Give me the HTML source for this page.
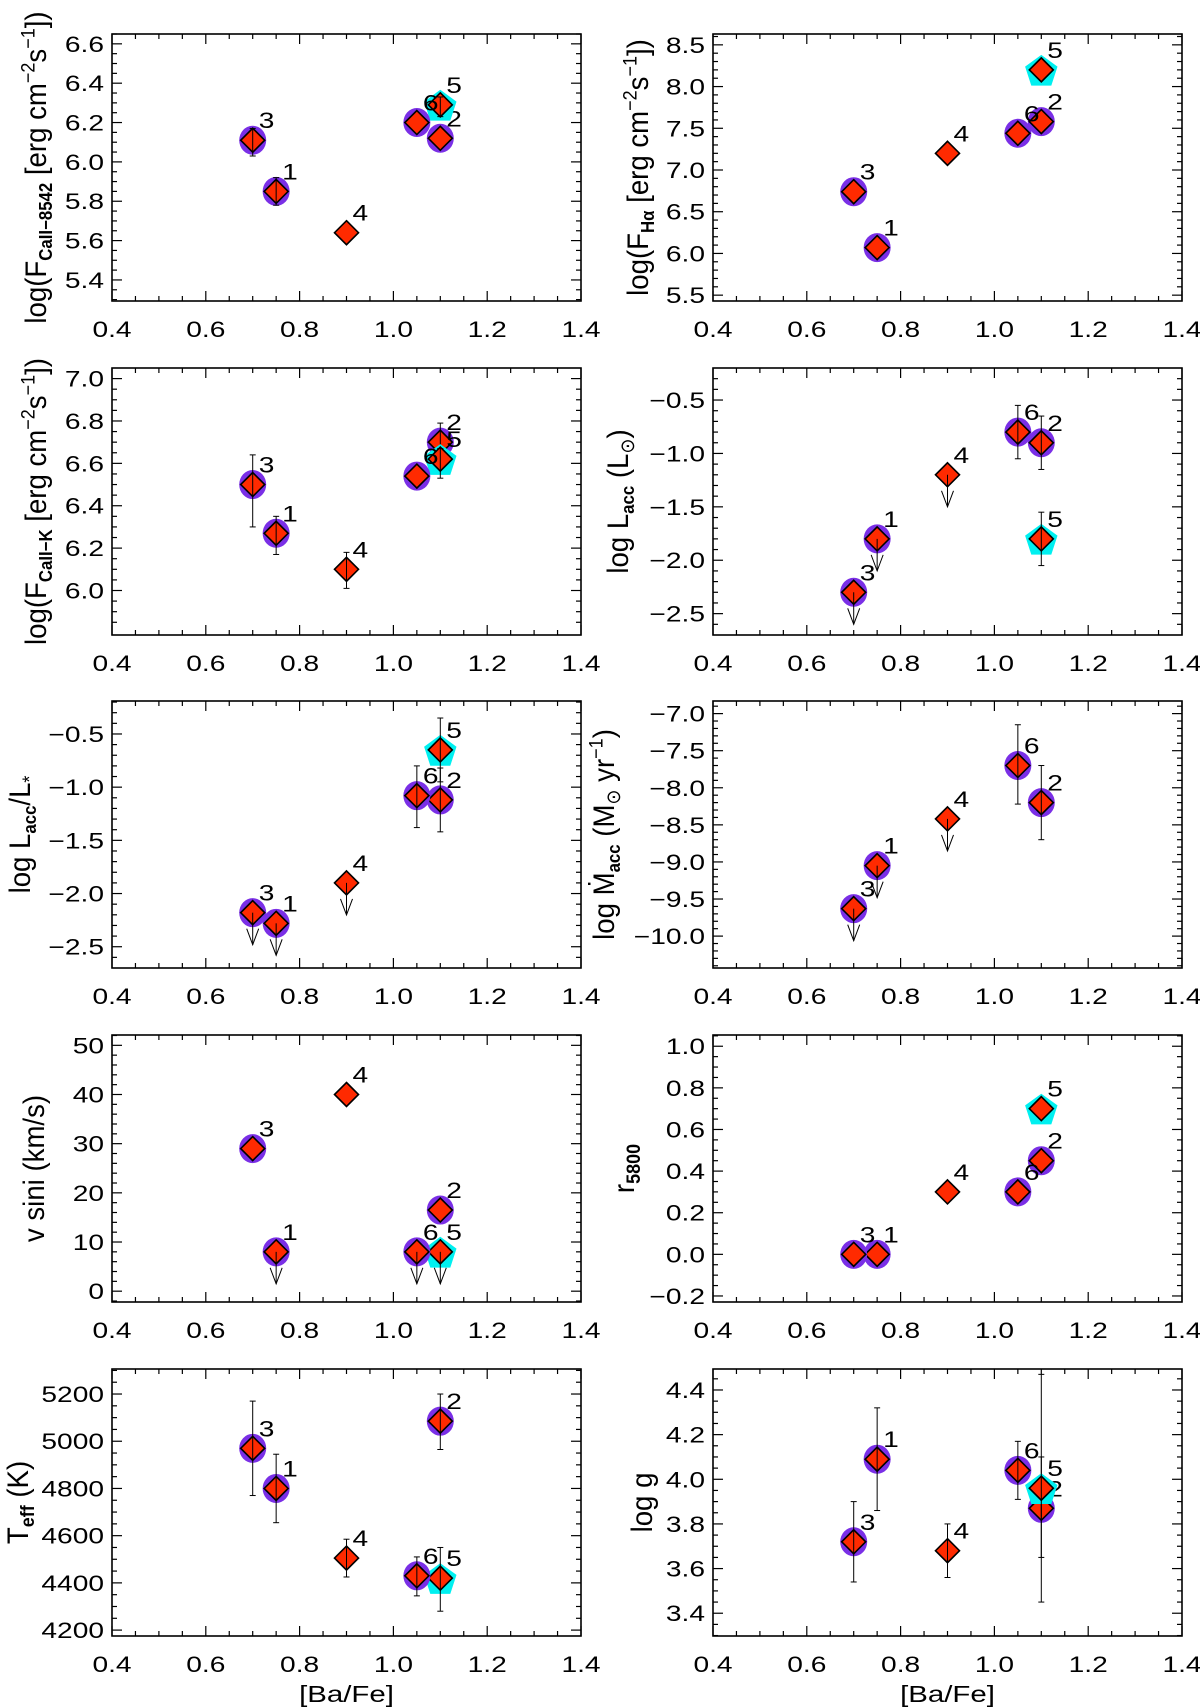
<!DOCTYPE html>
<html><head><meta charset="utf-8">
<style>
html,body{margin:0;padding:0;background:#fff;}
svg{display:block;font-family:"Liberation Sans",sans-serif;}
</style></head>
<body>
<svg id="fig" width="1200" height="1708" viewBox="0 0 1200 1708" xmlns="http://www.w3.org/2000/svg"></svg>
<script>
// ---------- data (stars 1..6) ----------
const starIds = ["1","2","3","4","5","6"];
const baFe = [0.75, 1.10, 0.70, 0.90, 1.10, 1.05];
const starKind = ["circle","circle","circle","none","penta","circle"];

const caII8542 = [5.85, 6.12, 6.11, 5.64, 6.29, 6.20];
const caII8542Lo = [5.78, null, 6.03, null, 6.23, null];
const caII8542Hi = [5.92, null, 6.17, null, 6.33, null];

const fHalpha = [6.07, 7.58, 6.74, 7.20, 8.20, 7.44];

const caIIK = [6.27, 6.70, 6.50, 6.10, 6.62, 6.54];
const caIIKLo = [6.17, 6.62, 6.30, 6.01, 6.53, null];
const caIIKHi = [6.35, 6.79, 6.64, 6.18, 6.67, null];

const logLacc = [-1.8, -0.9, -2.3, -1.2, -1.8, -0.8];
const logLaccLo = [null, -1.15, null, null, -2.05, -1.05];
const logLaccHi = [null, -0.65, null, null, -1.55, -0.55];
const logLaccUL = [1, 0, 1, 1, 0, 0];

const laccRatio = [-2.28, -1.12, -2.18, -1.90, -0.65, -1.08];
const laccRatioLo = [null, -1.42, null, null, -0.95, -1.38];
const laccRatioHi = [null, -0.82, null, null, -0.35, -0.80];
const laccRatioUL = [1, 0, 1, 1, 0, 0];

const mdot = [-9.05, -8.2, -9.63, -8.42, null, -7.7];
const mdotLo = [null, -8.7, null, null, null, -8.22];
const mdotHi = [null, -7.7, null, null, null, -7.15];
const mdotUL = [1, 0, 1, 1, 0, 0];

const vsini = [8, 16.5, 29, 40, 8, 8];
const vsiniUL = [1, 0, 0, 0, 1, 1];

const r5800 = [0.0, 0.45, 0.0, 0.30, 0.70, 0.30];

const teff = [4800, 5085, 4970, 4505, 4420, 4430];
const teffLo = [4655, 4965, 4770, 4425, 4280, 4345];
const teffHi = [4945, 5200, 5170, 4585, 4550, 4510];

const logg = [4.09, 3.87, 3.72, 3.68, 3.96, 4.04];
const loggLo = [3.86, 3.65, 3.54, 3.56, 3.45, 3.91];
const loggHi = [4.32, 4.10, 3.90, 3.80, 4.47, 4.17];

const xTicks = ["0.4","0.6","0.8","1.0","1.2","1.4"];
const yTicks1 = ["5.4","5.6","5.8","6.0","6.2","6.4","6.6"];
const yTicks2 = ["5.5","6.0","6.5","7.0","7.5","8.0","8.5"];
const yTicks3 = ["6.0","6.2","6.4","6.6","6.8","7.0"];
const yTicks4 = ["-2.5","-2.0","-1.5","-1.0","-0.5"];
const yTicks5 = ["-2.5","-2.0","-1.5","-1.0","-0.5"];
const yTicks6 = ["-10.0","-9.5","-9.0","-8.5","-8.0","-7.5","-7.0"];
const yTicks7 = ["0","10","20","30","40","50"];
const yTicks8 = ["-0.2","0.0","0.2","0.4","0.6","0.8","1.0"];
const yTicks9 = ["4200","4400","4600","4800","5000","5200"];
const yTicks10 = ["3.4","3.6","3.8","4.0","4.2","4.4"];

// ---------- layout ----------
const NS = "http://www.w3.org/2000/svg";
const svg = document.getElementById("fig");
const LX = [112, 581], RX = [713, 1182];
const rowTop = [34, 368, 701, 1035, 1369];
const PH = 267;
const XMIN = 0.4, XMAX = 1.4;
const RED = "#ff2a00", PURPLE = "#7a2fe6", CYAN = "#00f0f0";

const panels = [
  {name:"caII-8542", col:0,row:0,ymin:5.293,ymax:6.65,ticks:yTicks1,minor:4,y:caII8542,lo:caII8542Lo,hi:caII8542Hi,titleX:46,
   title:'log(F<tspan baseline-shift="-5" font-size="14" font-weight="bold">CaII−8542</tspan> [erg cm<tspan baseline-shift="9" font-size="15">−2</tspan>s<tspan baseline-shift="9" font-size="15">−1</tspan>])'},
  {name:"h-alpha", col:1,row:0,ymin:5.43,ymax:8.63,ticks:yTicks2,minor:5,y:fHalpha,titleX:648,
   title:'log(F<tspan baseline-shift="-5" font-size="14" font-weight="bold">Hα</tspan> [erg cm<tspan baseline-shift="9" font-size="15">−2</tspan>s<tspan baseline-shift="9" font-size="15">−1</tspan>])'},
  {name:"caII-k", col:0,row:1,ymin:5.79,ymax:7.05,ticks:yTicks3,minor:4,y:caIIK,lo:caIIKLo,hi:caIIKHi,titleX:46,
   title:'log(F<tspan baseline-shift="-5" font-size="14" font-weight="bold">CaII−K</tspan> [erg cm<tspan baseline-shift="9" font-size="15">−2</tspan>s<tspan baseline-shift="9" font-size="15">−1</tspan>])'},
  {name:"log-lacc", col:1,row:1,ymin:-2.7,ymax:-0.2,ticks:yTicks4,minor:5,y:logLacc,lo:logLaccLo,hi:logLaccHi,ul:logLaccUL,titleX:628,
   title:'log  L<tspan baseline-shift="-5" font-size="14" font-weight="bold">acc</tspan>  (L<tspan baseline-shift="-5" font-size="15">⊙</tspan>)'},
  {name:"lacc-ratio", col:0,row:2,ymin:-2.7,ymax:-0.19,ticks:yTicks5,minor:5,y:laccRatio,lo:laccRatioLo,hi:laccRatioHi,ul:laccRatioUL,titleX:30,
   title:'log  L<tspan baseline-shift="-5" font-size="14" font-weight="bold">acc</tspan>/L<tspan baseline-shift="-5" font-size="15">*</tspan>'},
  {name:"mdot", col:1,row:2,ymin:-10.43,ymax:-6.83,ticks:yTicks6,minor:5,y:mdot,lo:mdotLo,hi:mdotHi,ul:mdotUL,titleX:614,
   title:'log  Ṁ<tspan baseline-shift="-5" font-size="14" font-weight="bold">acc</tspan>  (M<tspan baseline-shift="-5" font-size="15">⊙</tspan> yr<tspan baseline-shift="9" font-size="15">−1</tspan>)'},
  {name:"vsini", col:0,row:3,ymin:-2.2,ymax:52.1,ticks:yTicks7,minor:5,y:vsini,ul:vsiniUL,titleX:44,
   title:'v  sini  (km/s)'},
  {name:"r5800", col:1,row:3,ymin:-0.229,ymax:1.054,ticks:yTicks8,minor:4,y:r5800,titleX:634,
   title:'r<tspan baseline-shift="-5" font-size="15" font-weight="bold">5800</tspan>'},
  {name:"teff", col:0,row:4,ymin:4175,ymax:5306,ticks:yTicks9,minor:4,y:teff,lo:teffLo,hi:teffHi,titleX:28,
   title:'T<tspan baseline-shift="-5" font-size="15" font-weight="bold">eff</tspan>  (K)'},
  {name:"logg", col:1,row:4,ymin:3.298,ymax:4.494,ticks:yTicks10,minor:4,y:logg,lo:loggLo,hi:loggHi,titleX:652,
   title:'log  g'}
];

function el(tag, attrs, parent){
  const e = document.createElementNS(NS, tag);
  for (const k in attrs) e.setAttribute(k, attrs[k]);
  (parent||svg).appendChild(e);
  return e;
}
function label(x, y, s, anchor, size, parent){
  const t = el("text", {transform:`translate(${x},${y}) scale(1.28,1)`, "text-anchor":anchor, "font-size":size, fill:"#000"}, parent);
  t.textContent = s;
  return t;
}

panels.forEach((p, pi) => {
  const X = p.col === 0 ? LX : RX;
  const top = rowTop[p.row], bot = top + PH;
  const xs = v => X[0] + (v - XMIN) / (XMAX - XMIN) * (X[1] - X[0]);
  const ys = v => bot - (v - p.ymin) / (p.ymax - p.ymin) * PH;
  const g = el("g", {});
  
  

  const fr = el("rect", {x:X[0], y:top, width:X[1]-X[0], height:PH, fill:"none", stroke:"#000", "stroke-width":1.6}, g);
  
  

  const xt = el("g", {stroke:"#000","stroke-width":1.2}, g);
  
  
  for (let i = 0; i < xTicks.length; i++) {
    const v = parseFloat(xTicks[i]);
    const px = xs(v);
    el("line", {x1:px, y1:bot, x2:px, y2:bot-10}, xt);
    el("line", {x1:px, y1:top, x2:px, y2:top+10}, xt);
    if (i < xTicks.length - 1) {
      const step = parseFloat(xTicks[i+1]) - v;
      for (let m = 1; m < 4; m++) {
        const mx = xs(v + step * m / 4);
        el("line", {x1:mx, y1:bot, x2:mx, y2:bot-5}, xt);
        el("line", {x1:mx, y1:top, x2:mx, y2:top+5}, xt);
      }
    }
  }
  const xl = el("g", {}, g);
  
  
  xTicks.forEach(s => label(xs(parseFloat(s)), bot + 36, s, "middle", 22, xl));

  const yt = el("g", {stroke:"#000","stroke-width":1.2}, g);
  
  
  const tv = p.ticks.map(parseFloat);
  const step = tv[1] - tv[0];
  for (let k = -1; k < tv.length + 1; k++) {
    const v = tv[0] + k * step;
    if (k >= 0 && k < tv.length) {
      const py = ys(v);
      el("line", {x1:X[0], y1:py, x2:X[0]+10, y2:py}, yt);
      el("line", {x1:X[1], y1:py, x2:X[1]-10, y2:py}, yt);
    }
    for (let m = 1; m < p.minor; m++) {
      const mv = v + step * m / p.minor;
      if (mv <= p.ymin || mv >= p.ymax) continue;
      const my = ys(mv);
      el("line", {x1:X[0], y1:my, x2:X[0]+5, y2:my}, yt);
      el("line", {x1:X[1], y1:my, x2:X[1]-5, y2:my}, yt);
    }
  }
  const yl = el("g", {}, g);
  
  
  p.ticks.forEach(s => label(X[0] - 8, ys(parseFloat(s)) + 8, s.replace("-", "−"), "end", 22, yl));

  const tt = el("text", {transform:`translate(${p.titleX},${(top+bot)/2}) rotate(-90) scale(1.2,1.3)`, "text-anchor":"middle", "font-size":23, fill:"#000"}, g);
  tt.innerHTML = p.title;
  
  

  [0,1,2,3,4,5].forEach(i => {
    const v = p.y[i];
    if (v === null || v === undefined) return;
    const cx = xs(baFe[i]), cy = ys(v);
    const mg = el("g", {}, g);
    
    
    if (starKind[i] === "circle") {
      el("ellipse", {cx:cx, cy:cy, rx:13.5, ry:14.5, fill:PURPLE}, mg);
    } else if (starKind[i] === "penta") {
      const pts = [];
      for (let k = 0; k < 5; k++) {
        const a = -Math.PI/2 + k * 2 * Math.PI / 5;
        pts.push((cx + 17*Math.cos(a)).toFixed(1) + "," + (cy + 2 + 17*Math.sin(a)).toFixed(1));
      }
      el("polygon", {points:pts.join(" "), fill:CYAN}, mg);
    }
    el("polygon", {points:`${cx},${cy-12} ${cx+12},${cy} ${cx},${cy+12} ${cx-12},${cy}`, fill:RED, stroke:"#000", "stroke-width":1.6}, mg);
    if (p.lo && p.lo[i] !== null && p.lo[i] !== undefined) {
      const y1 = ys(p.lo[i]), y2 = ys(p.hi[i]);
      el("line", {x1:cx, y1:y1, x2:cx, y2:y2, stroke:"#000", "stroke-width":1}, mg);
      el("line", {x1:cx-3, y1:y1, x2:cx+3, y2:y1, stroke:"#000", "stroke-width":1}, mg);
      el("line", {x1:cx-3, y1:y2, x2:cx+3, y2:y2, stroke:"#000", "stroke-width":1}, mg);
    }
    if (p.ul && p.ul[i]) {
      const tip = cy + 32;
      el("line", {x1:cx, y1:cy, x2:cx, y2:tip, stroke:"#000", "stroke-width":1}, mg);
      el("polyline", {points:`${cx-6},${tip-16} ${cx},${tip} ${cx+6},${tip-16}`, fill:"none", stroke:"#000", "stroke-width":1}, mg);
    }
    const lb = label(cx + 6, cy - 12, starIds[i], "start", 22, mg);
    
    
  });

  if (p.row === 4) {
    const xtitle = label((X[0]+X[1])/2, 1702, "[Ba/Fe]", "middle", 23, g);
    
    
  }
});
</script>
</body></html>
